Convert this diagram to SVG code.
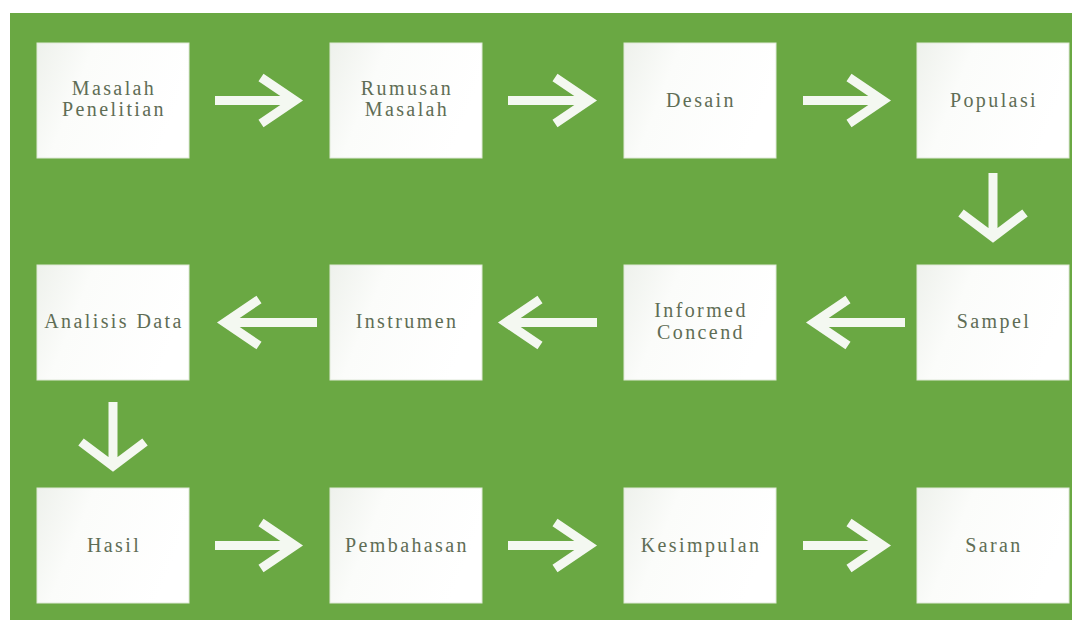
<svg xmlns="http://www.w3.org/2000/svg" width="1075" height="627" viewBox="0 0 1075 627">
<defs>
<linearGradient id="bx" x1="0" y1="0" x2="1" y2="0.3">
<stop offset="0" stop-color="#eef1ec"/>
<stop offset="0.35" stop-color="#fbfcfa"/>
<stop offset="1" stop-color="#ffffff"/>
</linearGradient>
<style>
.box{fill:url(#bx);stroke:#dfe9d8;stroke-width:1}
.t{font-size:20px;letter-spacing:2.4px;fill:#5f6d55;text-anchor:middle}
.ar{fill:none;stroke:#f4f8f1;stroke-width:9;stroke-linejoin:miter;stroke-miterlimit:10}
</style>
</defs>
<rect x="0" y="0" width="1075" height="627" fill="#ffffff"/>
<rect x="10" y="13" width="1062" height="607" fill="#6aa843"/>

<g id="connectors">
<path class="ar" d="M215 100.5H296M261 77.5L295 100.5L261 123.5"/>
<path class="ar" d="M508 100.5H590M555 77.5L589 100.5L555 123.5"/>
<path class="ar" d="M803 100.5H884M849 77.5L883 100.5L849 123.5"/>
<path class="ar" d="M993 173V236M961 213L993 237L1025 213"/>
<path class="ar" d="M905 322.5H814M848 299.5L814 322.5L848 345.5"/>
<path class="ar" d="M597 322.5H506M540 299.5L506 322.5L540 345.5"/>
<path class="ar" d="M317 322.5H225M259 299.5L225 322.5L259 345.5"/>
<path class="ar" d="M113 402V465M81 442L113 466L145 442"/>
<path class="ar" d="M215 545.5H296M261 522.5L295 545.5L261 568.5"/>
<path class="ar" d="M508 545.5H590M555 522.5L589 545.5L555 568.5"/>
<path class="ar" d="M803 545.5H884M849 522.5L883 545.5L849 568.5"/>
</g>

<g font-family="Liberation Serif, serif">
<g id="n1"><rect class="box" x="37" y="43" width="152" height="115"/><text class="t" x="114" y="95">Masalah</text><text class="t" x="114" y="116">Penelitian</text></g>
<g id="n2"><rect class="box" x="330" y="43" width="152" height="115"/><text class="t" x="407" y="95">Rumusan</text><text class="t" x="407" y="116">Masalah</text></g>
<g id="n3"><rect class="box" x="624" y="43" width="152" height="115"/><text class="t" x="701" y="107">Desain</text></g>
<g id="n4"><rect class="box" x="917" y="43" width="152" height="115"/><text class="t" x="994" y="107">Populasi</text></g>
<g id="n5"><rect class="box" x="917" y="265" width="152" height="115"/><text class="t" x="994" y="328">Sampel</text></g>
<g id="n6"><rect class="box" x="624" y="265" width="152" height="115"/><text class="t" x="701" y="317">Informed</text><text class="t" x="701" y="339">Concend</text></g>
<g id="n7"><rect class="box" x="330" y="265" width="152" height="115"/><text class="t" x="407" y="328">Instrumen</text></g>
<g id="n8"><rect class="box" x="37" y="265" width="152" height="115"/><text class="t" x="114" y="328">Analisis Data</text></g>
<g id="n9"><rect class="box" x="37" y="488" width="152" height="115"/><text class="t" x="114" y="552">Hasil</text></g>
<g id="n10"><rect class="box" x="330" y="488" width="152" height="115"/><text class="t" x="407" y="552">Pembahasan</text></g>
<g id="n11"><rect class="box" x="624" y="488" width="152" height="115"/><text class="t" x="701" y="552">Kesimpulan</text></g>
<g id="n12"><rect class="box" x="917" y="488" width="152" height="115"/><text class="t" x="994" y="552">Saran</text></g>
</g>
</svg>
